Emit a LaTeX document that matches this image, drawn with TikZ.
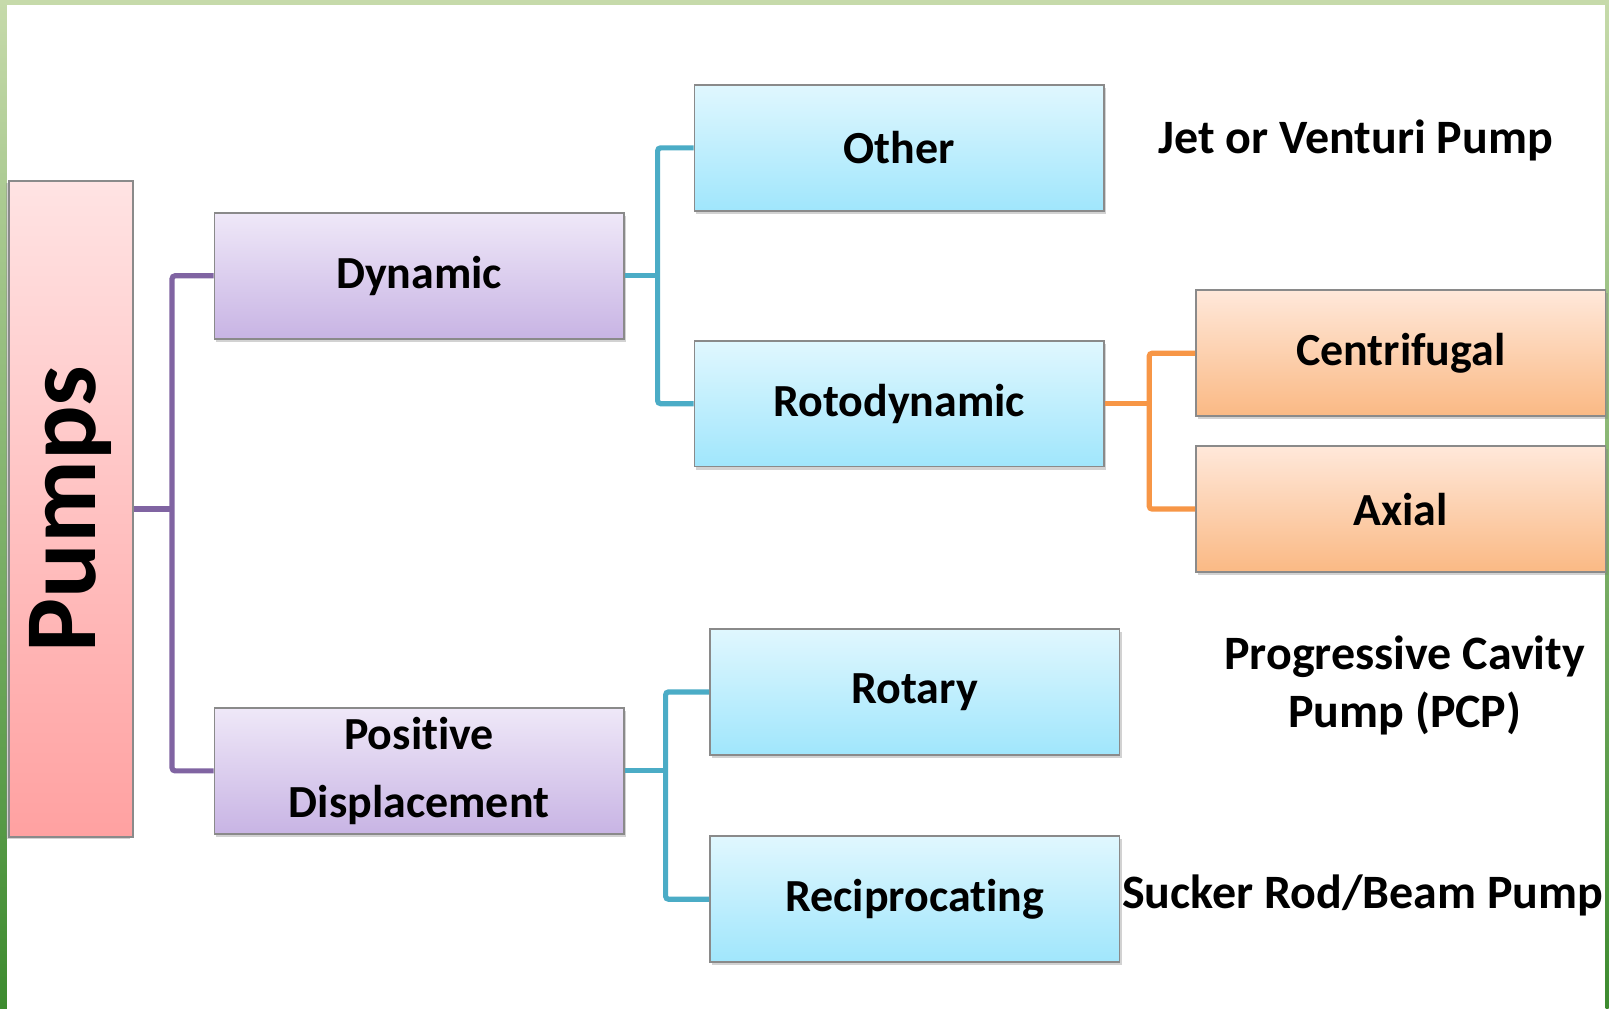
\documentclass[tikz,border=0pt]{standalone}
\usepackage{fontspec}
\setmainfont{Carlito}[RawFeature={-liga;-clig;-calt;-dlig}]
\usetikzlibrary{shadows}
\definecolor{pinktop}{HTML}{FFE3E3}
\definecolor{pinkbot}{HTML}{FFA1A1}
\definecolor{lilactop}{HTML}{EFE8F8}
\definecolor{lilacbot}{HTML}{C8B4E4}
\definecolor{cyantop}{HTML}{E0F7FE}
\definecolor{cyanbot}{HTML}{A0E6FC}
\definecolor{peachtop}{HTML}{FFE8DA}
\definecolor{peachbot}{HTML}{FAB984}
\definecolor{purpleline}{HTML}{8064A2}
\definecolor{tealline}{HTML}{4BACC6}
\definecolor{orangeline}{HTML}{F79646}
\definecolor{boxgray}{HTML}{8A8A8A}
\definecolor{framelight}{HTML}{C6DAAA}
\definecolor{framedark}{HTML}{3D8B2F}

\tikzset{
  box/.style={draw=boxgray, line width=0.8pt, minimum width=205pt, minimum height=63pt,
    inner sep=0pt, align=center, font=\bfseries\fontsize{23}{34}\selectfont,
    drop shadow={opacity=0.35, shadow xshift=1pt, shadow yshift=-1.5pt}},
  lilacbox/.style={box, top color=lilactop, bottom color=lilacbot},
  cyanbox/.style={box, top color=cyantop, bottom color=cyanbot},
  peachbox/.style={box, top color=peachtop, bottom color=peachbot},
  pumpbox/.style={draw=boxgray, line width=0.8pt, rotate=90, minimum width=328.5pt,
    minimum height=62pt, inner sep=0pt, top color=pinktop, bottom color=pinkbot,
    font=\bfseries\fontsize{51}{60}\selectfont,
    drop shadow={opacity=0.35, shadow xshift=-1.5pt, shadow yshift=-1pt}},
  example/.style={align=center, font=\bfseries\fontsize{24}{29.5}\selectfont},
  link/.style={line width=2.6pt, rounded corners=1.5pt}
}

\begin{document}
\begin{tikzpicture}[x=0.5pt, y=-0.5pt]
    % Frame
    \fill[white] (0,0) rectangle (1610,1009);
    \fill[framelight] (0,0) rectangle (1610,5);
    \shade[top color=framelight, bottom color=framedark] (0,0) rectangle (7,1009);
    \shade[top color=framelight, bottom color=framedark] (1607,0) rectangle (1610,1009);

    % Root
    \node[pumpbox] (pumps) at (71,509.5) {Pumps};

    % Level 1
    \node[lilacbox] (dynamic) at (419.5,276) {Dynamic};
    \node[lilacbox] (positive) at (419.5,771.5) {Positive\\Displacement};

    % Level 2
    \node[cyanbox] (other) at (900,148) {Other};
    \node[cyanbox] (roto) at (900,404) {Rotodynamic};
    \node[cyanbox] (rotary) at (915.5,692.5) {Rotary};
    \node[cyanbox] (recip) at (915.5,900) {Reciprocating};

    % Level 3
    \node[peachbox] (centri) at (1402,353.5) {Centrifugal};
    \node[peachbox] (axial) at (1402,509.5) {Axial};

    % Examples
    \node[example] (jet) at (1357,141) {Jet or Venturi Pump};
    \node[example] (pcp) at (1406,686) {Progressive Cavity\\Pump (PCP)};
    \node[example] (sucker) at (1364,896) {Sucker Rod/Beam Pump};

    % Connectors
    \draw[link, purpleline] (dynamic.west) -- ++(-41.5,0) |- (positive.west);
    \draw[link, purpleline] (pumps.south) -- ++(40.5,0);
    \draw[link, tealline] (other.west) -- ++(-36,0) |- (roto.west);
    \draw[link, tealline] (dynamic.east) -- ++(35,0);
    \draw[link, tealline] (rotary.west) -- ++(-43.5,0) |- (recip.west);
    \draw[link, tealline] (positive.east) -- ++(43.5,0);
    \draw[link, orangeline] (centri.west) -- ++(-46,0) |- (axial.west);
    \draw[link, orangeline] (roto.east) -- ++(46,0);
\end{tikzpicture}
\end{document}
